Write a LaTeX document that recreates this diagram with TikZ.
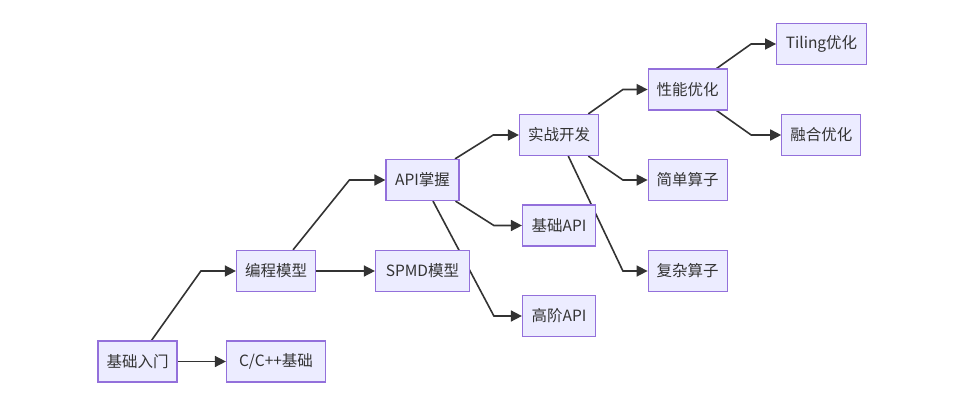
\documentclass[tikz,border=0pt]{standalone}
\usepackage{fontspec}
\setmainfont{Noto Sans CJK SC}
\usetikzlibrary{arrows.meta,backgrounds}
\definecolor{boxfill}{HTML}{ECECFF}
\definecolor{boxline}{HTML}{9370DB}
\definecolor{edgecol}{HTML}{333333}
\begin{document}
\begin{tikzpicture}[x=1pt,y=-1pt,
  box/.style={draw=boxline,fill=boxfill,line width=1.2pt,minimum height=41pt,inner sep=0pt,
    text=edgecol,font=\fontsize{15.5}{18}\selectfont},
  edge/.style={draw=edgecol,line width=1.6pt,-{Triangle[length=11pt,width=11pt]}}]
\useasboundingbox (0,0) rectangle (967,394);
\node[box,minimum width=79pt] (n1) at (137.5,361.5) {基础入门};
\node[box,minimum width=99pt] (n2) at (276,361.5) {C/C++基础};
\node[box,minimum width=79pt] (n3) at (276,271) {编程模型};
\node[box,minimum width=73pt] (api) at (422.5,180) {API掌握};
\node[box,minimum width=94pt] (spmd) at (422.5,271) {SPMD模型};
\node[box,minimum width=73pt] (jcapi) at (559,225.5) {基础API};
\node[box,minimum width=73pt] (gjapi) at (559,316) {高阶API};
\node[box,minimum width=79pt] (szkf) at (559,135) {实战开发};
\node[box,minimum width=79pt] (xnyh) at (687.7,89.5) {性能优化};
\node[box,minimum width=79pt] (jdsz) at (687.7,180) {简单算子};
\node[box,minimum width=79pt] (fzsz) at (687.7,271) {复杂算子};
\node[box,minimum width=89.6pt] (tiling) at (821.5,44) {Tiling优化};
\node[box,minimum width=79pt] (rhyh) at (821.3,135) {融合优化};
\begin{pgfonlayer}{background}
\draw[edge] ([xshift=14pt]n1.north) -- ([xshift=-35pt]n3.west) -- (n3.west);
\draw[edge] (n1.east) -- (n2.west);
\draw[edge] ([xshift=17pt]n3.north) -- ([xshift=-36pt]api.west) -- (api.west);
\draw[edge] (n3.east) -- (spmd.west);
\draw[edge] ([xshift=32.5pt]api.north) -- ([xshift=-25.7pt]szkf.west) -- (szkf.west);
\draw[edge] ([xshift=33pt]api.south) -- ([xshift=-28pt]jcapi.west) -- (jcapi.west);
\draw[edge] ([xshift=10.5pt]api.south) -- ([xshift=-28pt]gjapi.west) -- (gjapi.west);
\draw[edge] ([xshift=29.3pt]szkf.north) -- ([xshift=-24.7pt]xnyh.west) -- (xnyh.west);
\draw[edge] ([xshift=29.3pt]szkf.south) -- ([xshift=-24.7pt]jdsz.west) -- (jdsz.west);
\draw[edge] ([xshift=9.3pt]szkf.south) -- ([xshift=-24.7pt]fzsz.west) -- (fzsz.west);
\draw[edge] ([xshift=29pt]xnyh.north) -- ([xshift=-25pt]tiling.west) -- (tiling.west);
\draw[edge] ([xshift=29pt]xnyh.south) -- ([xshift=-30pt]rhyh.west) -- (rhyh.west);
\end{pgfonlayer}
\end{tikzpicture}
\end{document}
